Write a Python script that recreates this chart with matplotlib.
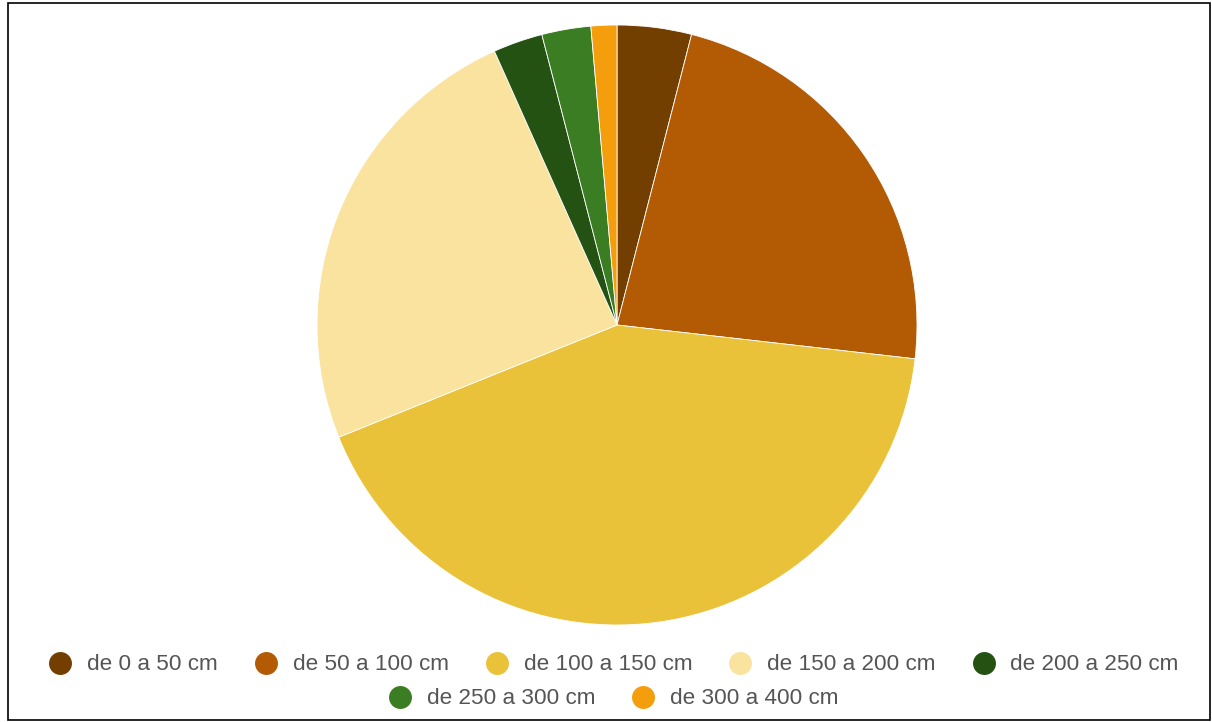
import matplotlib
matplotlib.use("Agg")
import matplotlib.pyplot as plt
from matplotlib.lines import Line2D
from matplotlib.patches import Rectangle

labels = ["de 0 a 50 cm", "de 50 a 100 cm", "de 100 a 150 cm", "de 150 a 200 cm",
          "de 200 a 250 cm", "de 250 a 300 cm", "de 300 a 400 cm"]
values = [4.0, 22.8, 42.1, 24.4, 2.67, 2.64, 1.39]
colors = ["#733f00", "#b35b04", "#eac23a", "#fae39e", "#235213", "#3a7d22", "#f49d0d"]

plt.rcParams["font.family"] = ["Liberation Sans", "DejaVu Sans"]

W, H = 1212, 722
fig = plt.figure(figsize=(W / 100, H / 100), dpi=100)
fig.patch.set_facecolor("white")

cx, cy, r = 617, 325, 300
ax = fig.add_axes([(cx - r) / W, 1 - (cy + r) / H, 2 * r / W, 2 * r / H])
ax.pie(values, colors=colors, startangle=90, counterclock=False, radius=1,
       wedgeprops=dict(edgecolor="white", linewidth=0.6))
ax.set_xlim(-1, 1)
ax.set_ylim(-1, 1)
ax.set_aspect("equal")
ax.axis("off")

def handles(idx):
    return [Line2D([0], [0], marker="o", linestyle="none", markersize=15.5,
                   markerfacecolor=colors[i], markeredgecolor=colors[i]) for i in idx]

kw = dict(frameon=False, fontsize=16.2, handletextpad=0.72, columnspacing=1.65,
          labelcolor="#555555", handlelength=0.96, borderaxespad=0)
row1 = [0, 1, 2, 3, 4]
row2 = [5, 6]
l1 = fig.legend(handles(row1), [labels[i] for i in row1], ncol=5, loc="center",
                bbox_to_anchor=(614 / W, 1 - 665 / H), **kw)
l2 = fig.legend(handles(row2), [labels[i] for i in row2], ncol=2, loc="center",
                bbox_to_anchor=(614 / W, 1 - 699 / H), **kw)

fig.add_artist(Rectangle((8 / W, 2 / H), (W - 10) / W, (H - 5) / H, transform=fig.transFigure,
                         fill=False, edgecolor="black", linewidth=1.2))

fig.savefig("out.png", dpi=100)
